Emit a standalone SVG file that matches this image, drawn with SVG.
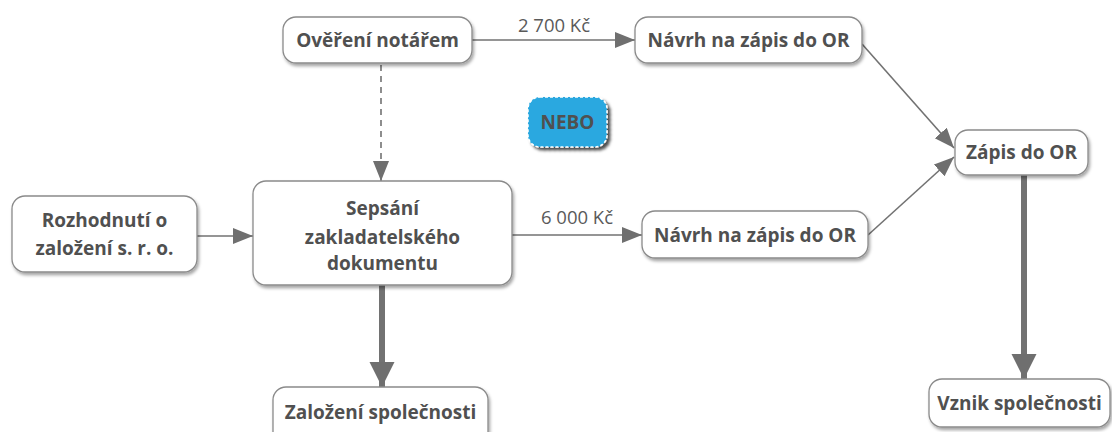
<svg xmlns="http://www.w3.org/2000/svg" width="1112" height="432" viewBox="0 0 1112 432">
  <style>
    .box { fill: #ffffff; stroke: #8a8a8a; stroke-width: 1.3; filter: url(#shadow); }
    .t { font-family: "Open Sans", "Noto Sans", "DejaVu Sans", sans-serif; font-weight: bold; font-size: 19px; fill: #505050; text-anchor: middle; }
    .lbl { font-family: "Open Sans", "Noto Sans", "DejaVu Sans", sans-serif; font-size: 18.5px; fill: #5a5a5a; text-anchor: middle; }
    .ln { stroke: #727272; stroke-width: 1.6; fill: none; }
    .thick { stroke: #727272; stroke-width: 6; fill: none; }
  </style>
  <defs>
    <filter id="shadow" x="-20%" y="-20%" width="140%" height="150%">
      <feDropShadow dx="1.5" dy="2.5" stdDeviation="1.5" flood-color="#000" flood-opacity="0.35"/>
    </filter>
    <filter id="shadow2" x="-20%" y="-20%" width="140%" height="150%">
      <feDropShadow dx="3" dy="3" stdDeviation="1.5" flood-color="#000" flood-opacity="0.7"/>
    </filter>
    <marker id="arr" markerUnits="userSpaceOnUse" markerWidth="22" markerHeight="18" refX="20" refY="8" orient="auto">
      <path d="M0,0 L20,8 L0,16 Z" fill="#6f6f6f"/>
    </marker>
    <marker id="arrBig" markerUnits="userSpaceOnUse" markerWidth="28" markerHeight="28" refX="25" refY="12.5" orient="auto">
      <path d="M0,0 L25,12.5 L0,25 Z" fill="#6f6f6f"/>
    </marker>
  </defs>

  <g id="connectors">
    <line class="ln" x1="472" y1="40" x2="635" y2="40" marker-end="url(#arr)"/>
    <text class="lbl" x="554" y="32">2 700 Kč</text>
    <line class="ln" x1="381" y1="65" x2="381" y2="181" stroke-dasharray="6,5" marker-end="url(#arr)"/>
    <line class="ln" x1="197" y1="236" x2="253" y2="236" marker-end="url(#arr)"/>
    <line class="ln" x1="512" y1="235" x2="642" y2="235" marker-end="url(#arr)"/>
    <text class="lbl" x="577" y="224">6 000 Kč</text>
    <line class="ln" x1="862" y1="44" x2="954" y2="148" marker-end="url(#arr)"/>
    <line class="ln" x1="868" y1="235" x2="954" y2="157" marker-end="url(#arr)"/>
    <line class="thick" x1="382" y1="285" x2="382" y2="387" marker-end="url(#arrBig)"/>
    <line class="thick" x1="1024" y1="175" x2="1024" y2="379" marker-end="url(#arrBig)"/>
  </g>

  <g id="overeni">
    <rect class="box" x="283" y="17" width="189" height="46" rx="13"/>
    <text class="t" x="377.5" y="47">Ověření notářem</text>
  </g>
  <g id="navrh-top">
    <rect class="box" x="635" y="17" width="227" height="46" rx="13"/>
    <text class="t" x="748.5" y="47">Návrh na zápis do OR</text>
  </g>
  <g id="nebo">
    <rect x="528" y="97" width="79" height="50" rx="12" fill="#29a8e0" stroke="#ffffff" stroke-width="1.5" stroke-dasharray="3,2" filter="url(#shadow2)"/>
    <text class="t" x="567.5" y="129">NEBO</text>
  </g>
  <g id="rozhodnuti">
    <rect class="box" x="12" y="196" width="185" height="76" rx="13"/>
    <text class="t" x="104.5" y="227">Rozhodnutí o</text>
    <text class="t" x="104.5" y="255">založení s. r. o.</text>
  </g>
  <g id="sepsani">
    <rect class="box" x="253" y="181" width="259" height="104" rx="13"/>
    <text class="t" x="382.5" y="215">Sepsání</text>
    <text class="t" x="382.5" y="244">zakladatelského</text>
    <text class="t" x="382.5" y="270">dokumentu</text>
  </g>
  <g id="navrh-bottom">
    <rect class="box" x="642" y="211" width="226" height="47" rx="13"/>
    <text class="t" x="755" y="242">Návrh na zápis do OR</text>
  </g>
  <g id="zapis">
    <rect class="box" x="955" y="130" width="133" height="45" rx="13"/>
    <text class="t" x="1021.5" y="159">Zápis do OR</text>
  </g>
  <g id="zalozeni">
    <rect class="box" x="273" y="387" width="215" height="58" rx="13"/>
    <text class="t" x="380.5" y="419">Založení společnosti</text>
  </g>
  <g id="vznik">
    <rect class="box" x="929" y="379" width="181" height="48" rx="13"/>
    <text class="t" x="1019.5" y="410">Vznik společnosti</text>
  </g>
</svg>
